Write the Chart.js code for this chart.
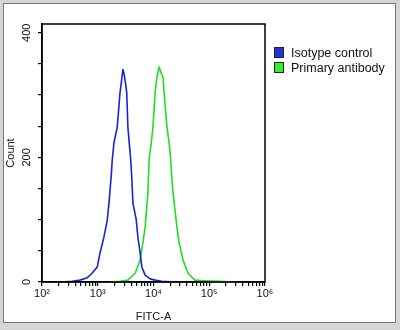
<!DOCTYPE html>
<html>
<head>
<meta charset="utf-8">
<script src="https://cdn.jsdelivr.net/npm/chart.js@4.4.1/dist/chart.umd.min.js"></script>
<style>
  html, body { margin: 0; padding: 0; background: #d5d5d5; }
  #wrap { position: relative; width: 400px; height: 330px; overflow: hidden; }
  #frame { position: absolute; left: 3px; top: 3px; width: 391px; height: 318px; background: #fff; border: 1px solid #777; }
  #chart { position: absolute; left: 0; top: 0; }
  #legend { position: absolute; left: 274px; top: 45px; font-family: "Liberation Sans", Arial, sans-serif; font-size: 12.5px; color: #111; }
  .item { display: flex; align-items: center; height: 15px; }
  .box { width: 8px; height: 9px; border: 1px solid #222; margin-right: 7px; }
</style>
</head>
<body>
<div id="wrap">
  <div id="frame"></div>
  <canvas id="chart" width="400" height="330"></canvas>
  <div id="legend"></div>
</div>
<script>
// series names and colours
const seriesNames = ['Isotype control', 'Primary antibody'];
const seriesColors = ['#1a22d6', '#22dd22'];
const boxColors = ['#2233e0', '#33ee33'];

// isotype control histogram (FITC-A intensity vs count)
const isoFitc = [210, 350, 480, 650, 790, 980, 1100, 1290, 1480, 1590, 1740, 1820, 1950, 2240, 2510, 2690, 2820, 2950, 3160, 3310, 3470, 3900, 4070, 4270, 4900, 5250, 5750, 6170, 7080, 8710, 10700, 14100, 24500];
const isoCount = [0, 1, 3, 7, 14, 24, 47, 72, 99, 127, 169, 196, 223, 249, 304, 325, 341, 335, 318, 304, 249, 196, 169, 127, 100, 72, 47, 24, 11, 5, 3, 1, 0];

// primary antibody histogram
const priFitc = [1660, 2510, 3470, 4680, 5750, 6460, 7080, 7940, 8320, 9120, 9770, 10700, 11500, 12600, 13500, 14800, 15500, 17400, 19100, 20400, 21400, 22400, 26300, 28800, 33900, 41700, 55000, 83200, 155000, 288000];
const priCount = [0, 1, 3, 14, 35, 63, 88, 143, 196, 223, 249, 304, 329, 345, 337, 329, 304, 249, 223, 196, 164, 143, 88, 63, 35, 14, 3, 2, 1, 0];

// axes
const xDecades = [1e2, 1e3, 1e4, 1e5, 1e6];
const xTickLabels = ['10²', '10³', '10⁴', '10⁵', '10⁶'];
const yTickValues = [0, 50, 100, 150, 200, 250, 300, 350, 400];
const yLabelValues = [0, 200, 400];
const yTickLabels = ['0', '200', '400'];
const xTitle = 'FITC-A';
const yTitle = 'Count';

const fontFam = '"Liberation Sans", Arial, sans-serif';

// legend
const legend = document.getElementById('legend');
seriesNames.forEach((name, i) => {
    const row = document.createElement('div');
    row.className = 'item';
    row.innerHTML = `<span class="box" style="background:${boxColors[i]}"></span><span>${name}</span>`;
    legend.appendChild(row);
});

// minor ticks 2..9 in every decade
const xTickValues = [];
for (let d = 0; d < xDecades.length; d++) {
    xTickValues.push(xDecades[d]);
    if (d < xDecades.length - 1) {
        for (let m = 2; m <= 9; m++) xTickValues.push(xDecades[d] * m);
    }
}

const frameBox = {
    id: 'frameBox',
    afterDraw(chart) {
        const { ctx, chartArea, scales } = chart;
        ctx.save();
        ctx.strokeStyle = '#000';
        ctx.lineWidth = 1.5;
        ctx.strokeRect(chartArea.left, chartArea.top, chartArea.right - chartArea.left, chartArea.bottom - chartArea.top);
        // rotated y tick labels
        ctx.fillStyle = '#111';
        ctx.font = '11px ' + fontFam;
        ctx.textAlign = 'center';
        ctx.textBaseline = 'middle';
        yLabelValues.forEach((v, i) => {
            const y = scales.y.getPixelForValue(v);
            ctx.save();
            ctx.translate(27, y);
            ctx.rotate(-Math.PI / 2);
            ctx.fillText(yTickLabels[i], 0, 0);
            ctx.restore();
        });
        ctx.restore();
    }
};

const ctx = document.getElementById('chart').getContext('2d');

const chart = new Chart(ctx, {
    type: 'line',
    data: {
        datasets: [
            {
                label: seriesNames[0],
                data: isoFitc.map((v, i) => ({ x: v, y: isoCount[i] })),
                borderColor: seriesColors[0],
                borderWidth: 1.6,
                borderJoinStyle: 'round',
                pointRadius: 0,
                tension: 0,
                fill: false
            },
            {
                label: seriesNames[1],
                data: priFitc.map((v, i) => ({ x: v, y: priCount[i] })),
                borderColor: seriesColors[1],
                borderWidth: 1.6,
                borderJoinStyle: 'round',
                pointRadius: 0,
                tension: 0,
                fill: false
            }
        ]
    },
    options: {
        responsive: false,
        animation: false,
        layout: { padding: { left: 0, top: 24, right: 135, bottom: 0 } },
        plugins: {
            legend: { display: false },
            tooltip: { enabled: false }
        },
        scales: {
            x: {
                type: 'logarithmic',
                min: 100,
                max: 1e6,
                afterBuildTicks: (scale) => { scale.ticks = xTickValues.map(v => ({ value: v })); },
                afterFit: (scale) => { scale.height = 48; },
                grid: { drawOnChartArea: false, tickLength: 4, color: '#000', lineWidth: 1.2 },
                border: { display: true, color: '#000', width: 1.5 },
                ticks: {
                    autoSkip: false,
                    maxRotation: 0,
                    padding: 1,
                    color: '#111',
                    font: { family: fontFam, size: 11 },
                    callback: (v) => {
                        const i = xDecades.indexOf(v);
                        return i >= 0 ? xTickLabels[i] : '';
                    }
                },
                title: {
                    display: true,
                    text: xTitle,
                    color: '#111',
                    font: { family: fontFam, size: 11 },
                    padding: { top: 0, bottom: 6 }
                }
            },
            y: {
                min: 0,
                max: 414,
                afterBuildTicks: (scale) => { scale.ticks = yTickValues.map(v => ({ value: v })); },
                afterFit: (scale) => { scale.width = 42; },
                grid: { drawOnChartArea: false, tickLength: 4, color: '#000', lineWidth: 1.2 },
                border: { display: true, color: '#000', width: 1.5 },
                ticks: { callback: () => '' },
                title: {
                    display: true,
                    text: yTitle,
                    color: '#111',
                    font: { family: fontFam, size: 11 },
                    padding: { top: 4, bottom: 0 }
                }
            }
        }
    },
    plugins: [frameBox]
});
</script>
</body>
</html>
